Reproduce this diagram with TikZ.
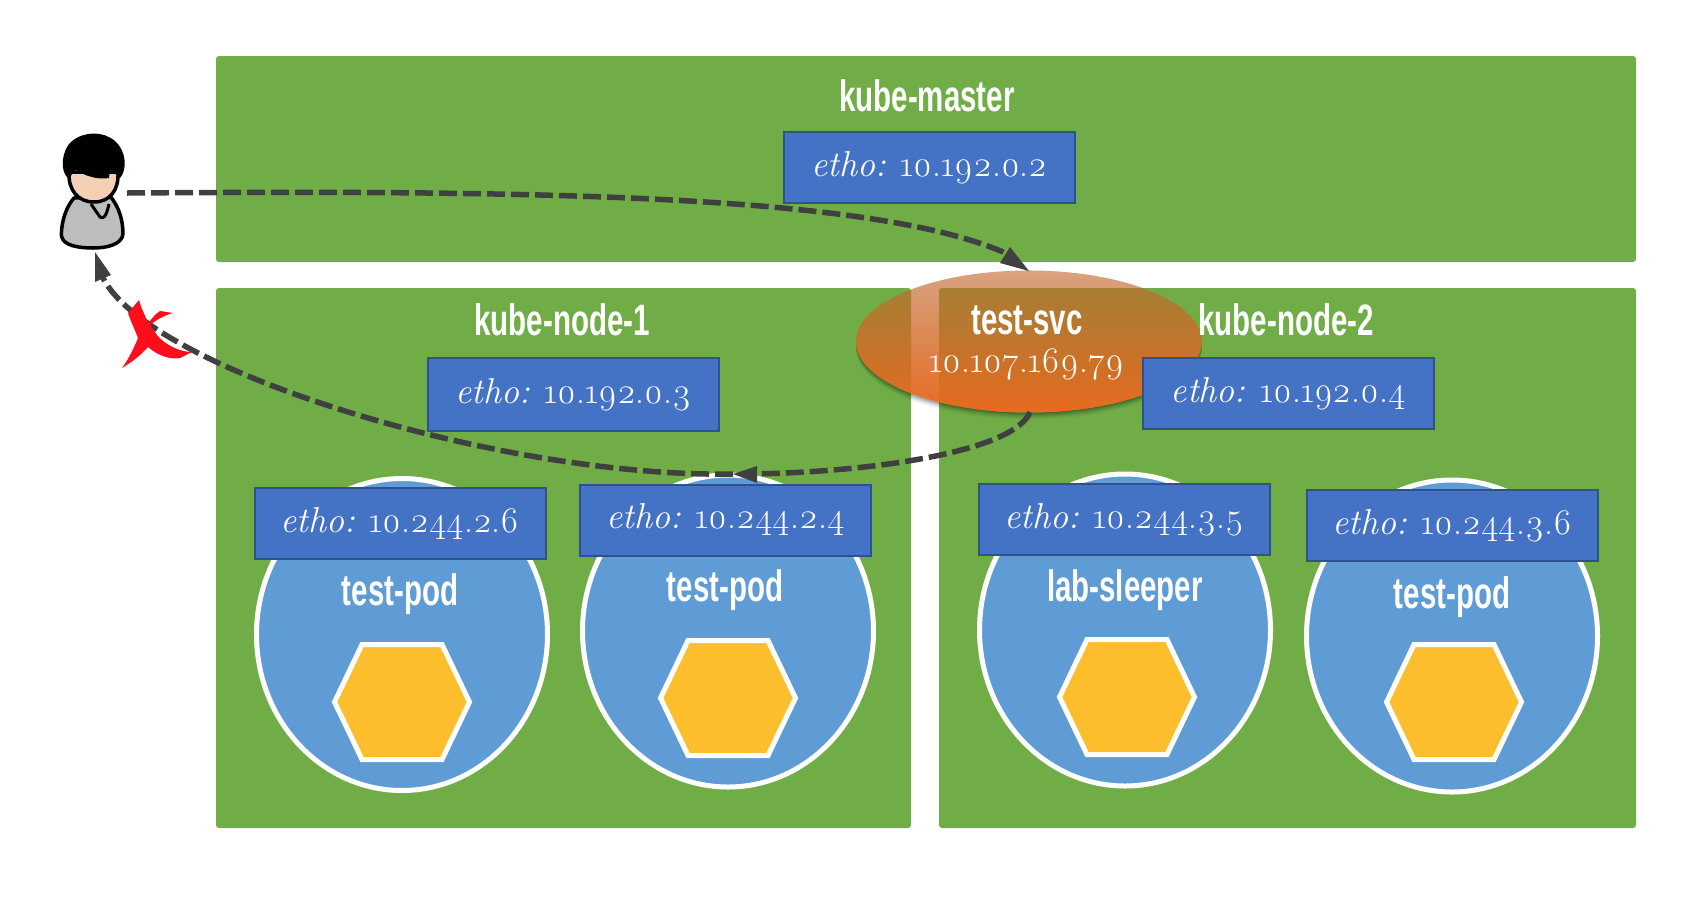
\documentclass[tikz,border=0pt]{standalone}
\usepackage{fontspec}
\usetikzlibrary{shapes.geometric,fadings,arrows.meta}
\newfontfamily\titlef[FakeStretch=0.67]{Liberation Sans Bold}
\newfontfamily\scriptf[Numbers=OldStyle]{Latin Modern Roman}
\definecolor{grn}{HTML}{70AD47}
\definecolor{boxf}{HTML}{4472C4}
\definecolor{boxd}{HTML}{2F528F}
\definecolor{podf}{HTML}{5F9BD5}
\definecolor{hexf}{HTML}{FDBE2D}
\definecolor{conn}{HTML}{404040}
\definecolor{redx}{HTML}{FF0D1C}
\definecolor{skin}{HTML}{F5D0B5}
\definecolor{shirt}{HTML}{BDBDBD}
\definecolor{svctop}{HTML}{C0652A}
\definecolor{svcbot}{HTML}{E96B20}
\tikzfading[name=svcfade, top color=transparent!40, bottom color=transparent!0]
\tikzset{
  x=1pt,y=-1pt,
  zone/.style={fill=grn,draw=none,rounded corners=3pt,inner sep=0pt,outer sep=0pt},
  ethbox/.style={draw=boxd,fill=boxf,line width=2pt,minimum width=291pt,minimum height=71pt,inner sep=0pt,outer sep=0pt,text=white,font=\scriptf\fontsize{36}{36}\selectfont},
  title/.style={text=white,font=\titlef\fontsize{44}{44}\selectfont,inner sep=0pt},
  pod/.style={ellipse,draw=white,fill=podf,line width=5pt,minimum width=291pt,minimum height=312pt,inner sep=0pt,outer sep=0pt},
  hex/.style={draw=white,fill=hexf,line width=5pt,line join=miter},
  link/.style={draw=conn,line width=5.5pt,dash pattern=on 18pt off 6pt},
  head/.style={fill=conn,draw=none},
  outline/.style={draw=black,line width=3.5pt,line join=round},
}
\newcommand{\hexat}[2]{\draw[hex] (#1-40,#2-57.5) -- (#1+40,#2-57.5) -- (#1+67.5,#2) -- (#1+40,#2+57.5) -- (#1-40,#2+57.5) -- (#1-67.5,#2) -- cycle;}
\newcommand{\ethtext}[1]{{\itshape etho:} #1}
\begin{document}
\begin{tikzpicture}
\useasboundingbox (0,0) rectangle (1704,898);
% zones
\node[zone,minimum width=1420pt,minimum height=206pt] (master) at (926,159) {};
\node[zone,minimum width=695pt,minimum height=540pt] (node1) at (563.5,558) {};
\node[zone,minimum width=697pt,minimum height=540pt] (node2) at (1287.5,558) {};
% service shadow (outside the ellipse only)
\begin{scope}[even odd rule]
  \clip (0,0) rectangle (1704,898) (1029,341.5) ellipse [x radius=173pt,y radius=71pt];
  \foreach \d/\o in {1/.14,2.5/.12,4/.09,5.5/.06,7/.04}{
    \fill[black,opacity=\o] (1029,341.5+\d) ellipse [x radius=173pt,y radius=71pt];
  }
\end{scope}
\node[ellipse,minimum width=346pt,minimum height=142pt,inner sep=0pt,outer sep=0pt,top color=svctop,bottom color=svcbot,path fading=svcfade] (svc) at (1029,341.5) {};
% titles
\node[title] (tmaster) at (927,96) {kube-master};
\node[title] (tnode1) at (562,320) {kube-node-1};
\node[title] (tnode2) at (1286,320) {kube-node-2};
\node[title] (tsvc) at (1027,320) {test-svc};
\node[text=white,inner sep=0pt,font=\scriptf\fontsize{36}{36}\selectfont] (ipsvc) at (1027,364) {10.107.169.79};
% pods
\node[pod] (pod1) at (402,634.5) {};
\node[pod] (pod2) at (728,631) {};
\node[pod] (pod3) at (1125,630) {};
\node[pod] (pod4) at (1452,636) {};
\hexat{402}{702}
\hexat{728}{698}
\hexat{1127}{697}
\hexat{1454}{702}
\node[title] (tpod1) at (400,594) {test-pod};
\node[title] (tpod2) at (725,590) {test-pod};
\node[title] (tpod3) at (1125,590) {lab-sleeper};
\node[title] (tpod4) at (1452,597) {test-pod};
% address boxes
\node[ethbox] (ethm) at (929.5,167.5) {\ethtext{10.192.0.2}};
\node[ethbox,minimum height=73pt] (eth1) at (573.5,394.5) {\ethtext{10.192.0.3}};
\node[ethbox] (eth2) at (1288.5,393.5) {\ethtext{10.192.0.4}};
\node[ethbox] (ethp1) at (400,523.5) {\ethtext{10.244.2.6}};
\node[ethbox] (ethp2) at (725.5,520) {\ethtext{10.244.2.4}};
\node[ethbox] (ethp3) at (1124.5,519.5) {\ethtext{10.244.3.5}};
\node[ethbox] (ethp4) at (1452.5,525.5) {\ethtext{10.244.3.6}};
% person
\coordinate (person) at (93,192);
\filldraw[outline,fill=shirt] (74,198) .. controls (62,212) and (61,232) .. (61.5,236) .. controls (63,246) and (80,248) .. (93,248) .. controls (108,248) and (122,244) .. (123,234) .. controls (123,222) and (120,208) .. (110,196) -- cycle;
\draw[draw=black,line width=3pt,line join=round,fill=shirt] (91,204) -- (100,217) .. controls (103,219) and (106,218) .. (109,204);
\filldraw[outline,fill=skin] (69,172) .. controls (68,190) and (78,202) .. (94,202) .. controls (110,202) and (119,190) .. (118,172) -- cycle;
\fill[black] (68,178) .. controls (60,172) and (61,150) .. (72,141) .. controls (85,131) and (103,131) .. (115,141) .. controls (127,152) and (127,170) .. (120,178) .. controls (117,176) and (114,172) .. (110,170) -- (109,178) .. controls (98,180) and (85,176) .. (76,170) .. controls (73,172) and (72,176) .. (68,178) -- cycle;
% connectors
\coordinate (arrA) at (1029,271);
\coordinate (arrB) at (733,474);
\coordinate (arrC) at (95,252);
\path[link] (127,193) .. controls (550,190) and (880,195) .. (1010,255);
\fill[head] (arrA) -- (1000,263) -- (1010,247) -- cycle;
\path[link] (1030,412) .. controls (1015,450) and (880,472) .. (750,474);
\fill[head] (arrB) -- (757,466) -- (757,483) -- cycle;
\path[link] (733,474) .. controls (500,478) and (150,370) .. (103,278);
\fill[head] (arrC) -- (95,282) -- (111,275) -- cycle;
% red cross
\fill[redx] (139,300) -- (128,313) .. controls (131,322) and (135,330) .. (138,338) .. controls (134,348) and (128,360) .. (122,368) .. controls (132,362) and (141,355) .. (148,347) .. controls (158,356) and (172,360) .. (180,358) -- (192,352) .. controls (180,352) and (165,345) .. (157,335) -- (150,325) .. controls (156,320) and (165,315) .. (173,313) -- (160,311) .. controls (155,314) and (151,320) .. (148,323) .. controls (145,315) and (141,308) .. (139,300) -- cycle;
\end{tikzpicture}
\end{document}
